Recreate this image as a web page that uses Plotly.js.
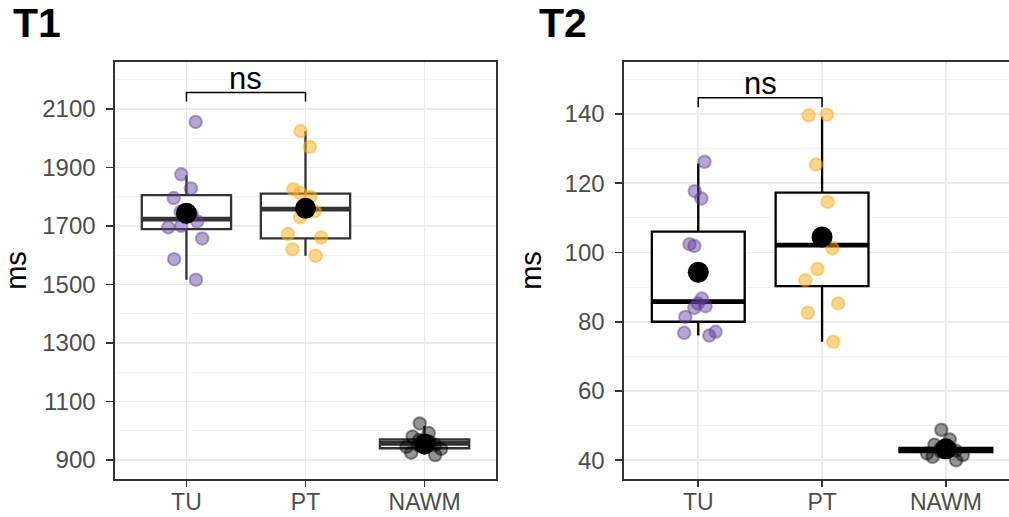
<!DOCTYPE html>
<html>
<head>
<meta charset="utf-8">
<script src="https://cdn.plot.ly/plotly-3.0.1.min.js"></script>
<style>html,body{margin:0;padding:0;background:#fff;}#chart{width:1009px;height:517px;}</style>
</head>
<body>
<div id="chart"></div>
<script>
// ---------- data ----------
var categories = ["TU", "PT", "NAWM"];

// T1 individual samples (ms)
var t1_TU   = [2055, 1876, 1828, 1795, 1748, 1740, 1730, 1715, 1700, 1695, 1657, 1586, 1516];
var t1_PT   = [2024, 1970, 1825, 1812, 1799, 1765, 1750, 1729, 1672, 1660, 1620, 1598];
var t1_NAWM = [1025, 992, 980, 968, 962, 957, 952, 948, 945, 938, 925, 917];

// T1 box statistics (TU, PT, NAWM)
var t1_q1     = [1689, 1657, 940];
var t1_median = [1723, 1757, 957];
var t1_q3     = [1805, 1810, 970];
var t1_lower  = [1516, 1598, 918];
var t1_upper  = [1873, 2024, 1017];
var t1_mean   = [1743, 1760, 955];

// T2 individual samples (ms)
var t2_TU   = [126.2, 117.7, 115.6, 102.4, 101.9, 86.7, 85.3, 84.5, 84.0, 81.4, 77.1, 76.8, 76.0];
var t2_PT   = [139.8, 139.6, 125.4, 114.6, 104.5, 101.2, 95.2, 92.0, 85.3, 82.6, 74.2];
var t2_NAWM = [48.8, 46.0, 44.5, 43.5, 43.2, 43.0, 42.8, 42.5, 42.0, 41.5, 41.0, 40.0];

// T2 box statistics (TU, PT, NAWM)
var t2_q1     = [80.0, 90.3, 42.4];
var t2_median = [85.8, 102.1, 43.0];
var t2_q3     = [106.0, 117.3, 43.6];
var t2_lower  = [76.0, 74.2, 42.0];
var t2_upper  = [125.7, 139.2, 44.5];
var t2_mean   = [94.3, 104.5, 43.3];

// y tick labels
var t1_ticks = [900, 1100, 1300, 1500, 1700, 1900, 2100];
var t2_ticks = [40, 60, 80, 100, 120, 140];

// significance labels
var t1_sig = "ns";
var t2_sig = "ns";
var t1_sigY = [2125, 2156, 2202];   // leg bottom, bracket, label
var t2_sigY = [141.9, 144.7, 148.7];

// ---------- styling ----------
var FONT = "Liberation Sans, Arial, Helvetica, sans-serif";
var groupColors = ["rgba(94,60,153,0.45)", "rgba(255,170,20,0.48)", "rgba(0,0,0,0.42)"];

function panelTraces(xa, ya, samples, q1, med, q3, lo, hi, mean, lineColor) {
  var tr = [];
  tr.push({
    type: "box", xaxis: xa, yaxis: ya, x: categories,
    q1: q1, median: med, q3: q3, lowerfence: lo, upperfence: hi,
    width: 0.75, whiskerwidth: 0, boxpoints: false,
    fillcolor: "#ffffff", line: {color: lineColor, width: 2.3},
    hoverinfo: "skip", showlegend: false
  });
  tr.push({
    type: "box", xaxis: xa, yaxis: ya, x: categories,
    q1: med, median: med, q3: med, lowerfence: med, upperfence: med,
    width: 0.75, whiskerwidth: 0, boxpoints: false,
    fillcolor: "rgba(0,0,0,0)", line: {color: lineColor, width: 4.8},
    hoverinfo: "skip", showlegend: false
  });
  for (var i = 0; i < categories.length; i++) {
    var ys = samples[i];
    var xs = ys.map(function () { return categories[i]; });
    tr.push({
      type: "box", xaxis: xa, yaxis: ya, x: xs, y: ys,
      boxpoints: "all", jitter: 0.9, pointpos: 0, width: 0.4,
      fillcolor: "rgba(0,0,0,0)", line: {width: 0, color: "rgba(0,0,0,0)"},
      marker: {color: groupColors[i], size: 12.5, line: {color: groupColors[i], width: 2}},
      hoverinfo: "skip", showlegend: false
    });
  }
  tr.push({
    type: "scatter", mode: "markers", xaxis: xa, yaxis: ya,
    x: categories, y: mean,
    marker: {color: "#000000", size: 21},
    hoverinfo: "skip", showlegend: false
  });
  return tr;
}

var data = []
  .concat(panelTraces("x", "y", [t1_TU, t1_PT, t1_NAWM], t1_q1, t1_median, t1_q3, t1_lower, t1_upper, t1_mean, "#333333"))
  .concat(panelTraces("x2", "y2", [t2_TU, t2_PT, t2_NAWM], t2_q1, t2_median, t2_q3, t2_lower, t2_upper, t2_mean, "#000000"));

function xAxis(domain, range, anchor) {
  return {
    domain: domain, anchor: anchor, type: "category", categoryorder: "array", categoryarray: categories,
    range: range, showgrid: true, gridcolor: "#ebebeb", gridwidth: 1.6, zeroline: false,
    ticks: "outside", ticklen: 6, tickwidth: 1.6, tickcolor: "#333333", ticklabelstandoff: -4,
    showline: true, linecolor: "#333333", linewidth: 1.6, mirror: true,
    tickfont: {family: FONT, size: 23, color: "#4d4d4d"}, fixedrange: true
  };
}
function yAxis(domain, range, ticks, minorStart, minorStep, anchor, mirror) {
  return {
    domain: domain, anchor: anchor, range: range,
    tickmode: "array", tickvals: ticks, ticktext: ticks.map(String),
    showgrid: true, gridcolor: "#ebebeb", gridwidth: 1.6, zeroline: false,
    minor: {tick0: minorStart, dtick: minorStep, showgrid: true, gridcolor: "#f1f1f1", gridwidth: 0.9, ticks: ""},
    ticks: "outside", ticklen: 7, tickwidth: 1.6, tickcolor: "#333333", ticklabelstandoff: 6,
    showline: true, linecolor: "#333333", linewidth: 1.6, mirror: mirror,
    tickfont: {family: FONT, size: 24, color: "#4d4d4d"},
    title: {text: "ms", font: {family: FONT, size: 29, color: "#000000"}, standoff: 14},
    fixedrange: true
  };
}

var yDom = [1 - 479 / 517, 1 - 62 / 517];
var layout = {
  width: 1009, height: 517, autosize: false,
  margin: {l: 0, r: 0, t: 0, b: 0},
  paper_bgcolor: "#ffffff", plot_bgcolor: "#ffffff",
  boxmode: "overlay", showlegend: false,
  font: {family: FONT},
  xaxis: xAxis([115 / 1009, 496 / 1009], [-0.6, 2.6], "y"),
  yaxis: yAxis(yDom, [835, 2260], t1_ticks, 1000, 200, "x", true),
  xaxis2: xAxis([624 / 1009, 1], [-0.6, 2.51], "y2"),
  yaxis2: yAxis(yDom, [34.6, 155], t2_ticks, 50, 20, "x2", false),
  shapes: [
    {type: "path", xref: "x", yref: "y", line: {color: "#000", width: 1.5},
     path: "M 0," + t1_sigY[0] + " L 0," + t1_sigY[1] + " L 1," + t1_sigY[1] + " L 1," + t1_sigY[0]},
    {type: "path", xref: "x2", yref: "y2", line: {color: "#000", width: 1.5},
     path: "M 0," + t2_sigY[0] + " L 0," + t2_sigY[1] + " L 1," + t2_sigY[1] + " L 1," + t2_sigY[0]}
  ],
  annotations: [
    {xref: "x", yref: "y", x: 0.5, y: t1_sigY[2], text: t1_sig, showarrow: false,
     font: {family: FONT, size: 31, color: "#000"}, xanchor: "center", yanchor: "middle"},
    {xref: "x2", yref: "y2", x: 0.5, y: t2_sigY[2], text: t2_sig, showarrow: false,
     font: {family: FONT, size: 31, color: "#000"}, xanchor: "center", yanchor: "middle"},
    {xref: "paper", yref: "paper", x: 11 / 1009, y: 1 - 23 / 517, text: "<b>T1</b>", showarrow: false,
     font: {family: FONT, size: 41, color: "#000"}, xanchor: "left", yanchor: "middle"},
    {xref: "paper", yref: "paper", x: 537 / 1009, y: 1 - 23 / 517, text: "<b>T2</b>", showarrow: false,
     font: {family: FONT, size: 41, color: "#000"}, xanchor: "left", yanchor: "middle"}
  ]
};

Plotly.newPlot("chart", data, layout, {staticPlot: true, displayModeBar: false});
</script>
</body>
</html>
